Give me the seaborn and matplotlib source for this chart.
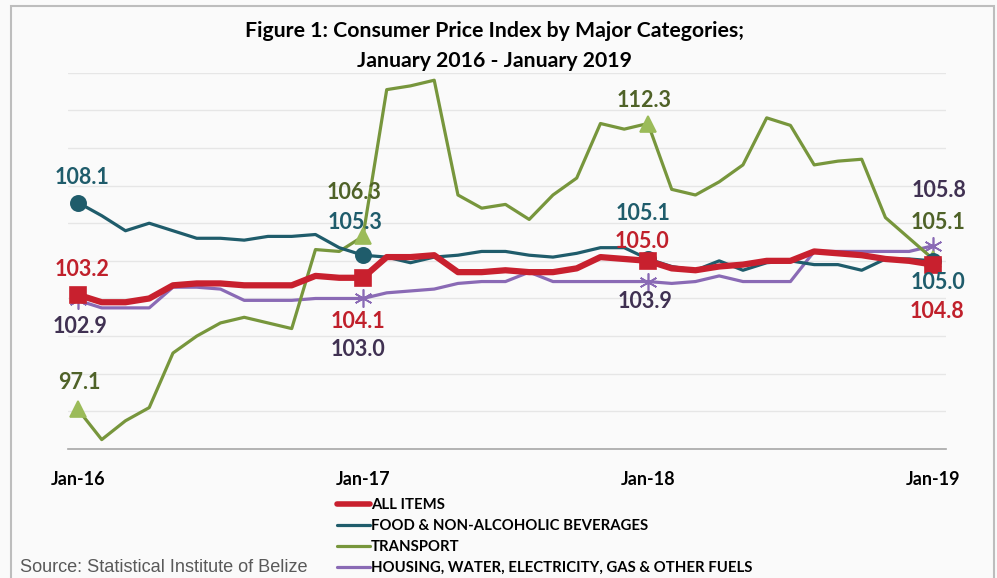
import matplotlib
matplotlib.use("Agg")
import matplotlib.pyplot as plt
from matplotlib.patches import Rectangle
import pandas as pd
import seaborn as sns

# --- data ---
months = pd.date_range("2016-01-01", "2019-01-01", freq="MS")
tick_idx = [0, 12, 24, 36]
tick_labels = ["Jan-16", "Jan-17", "Jan-18", "Jan-19"]

all_items = [103.2, 102.8, 102.8, 103.0, 103.7, 103.8, 103.8, 103.7, 103.7, 103.7, 104.2, 104.1,
             104.1, 105.2, 105.2, 105.3, 104.4, 104.4, 104.5, 104.4, 104.4, 104.6, 105.2, 105.1,
             105.0, 104.6, 104.5, 104.7, 104.8, 105.0, 105.0, 105.5, 105.4, 105.3, 105.1, 105.0,
             104.8]
food = [108.1, 107.4, 106.6, 107.0, 106.6, 106.2, 106.2, 106.1, 106.3, 106.3, 106.4, 105.7,
        105.3, 105.2, 104.9, 105.2, 105.3, 105.5, 105.5, 105.3, 105.2, 105.4, 105.7, 105.7,
        105.1, 104.7, 104.5, 105.0, 104.5, 104.9, 105.0, 104.8, 104.8, 104.5, 105.1, 105.1,
        105.0]
transport = [97.1, 95.5, 96.5, 97.2, 100.1, 101.0, 101.7, 102.0, 101.7, 101.4, 105.6, 105.5,
             106.3, 114.1, 114.3, 114.6, 108.5, 107.8, 108.0, 107.2, 108.5, 109.4, 112.3, 112.0,
             112.3, 108.8, 108.5, 109.2, 110.1, 112.6, 112.2, 110.1, 110.3, 110.4, 107.3, 106.2,
             105.1]
housing = [102.9, 102.5, 102.5, 102.5, 103.6, 103.6, 103.5, 102.9, 102.9, 102.9, 103.0, 103.0,
           103.0, 103.3, 103.4, 103.5, 103.8, 103.9, 103.9, 104.4, 103.9, 103.9, 103.9, 103.9,
           103.9, 103.8, 103.9, 104.2, 103.9, 103.9, 103.9, 105.5, 105.5, 105.5, 105.5, 105.5,
           105.8]

names = ["ALL ITEMS", "FOOD & NON-ALCOHOLIC BEVERAGES", "TRANSPORT",
         "HOUSING, WATER, ELECTRICITY, GAS & OTHER FUELS"]

df = pd.DataFrame({"month": range(len(months)), names[0]: all_items, names[1]: food,
                   names[2]: transport, names[3]: housing})

# --- styles ---
styles = {
    names[0]: dict(color="#c8202e", lw=4.5, marker="s", ms=11, mfc="#c8202e", mec="#c8202e", text="#c0202b"),
    names[1]: dict(color="#1f5c6b", lw=2.3, marker="o", ms=11, mfc="#1f5c6b", mec="#1f5c6b", text="#1f5c6b"),
    names[2]: dict(color="#77963c", lw=2.3, marker="^", ms=12, mfc="#9bbb59", mec="#9bbb59", text="#4f6228"),
    names[3]: dict(color="#8a6ab5", lw=2.3, marker=(6, 2, 0), ms=13, mfc="#8064a2", mec="#8a6ab5", text="#403152"),
}

# data labels: (series, month index, offset in pixels)
labels = [
    (names[1], 0, (4, 25)), (names[0], 0, (4, 25)), (names[3], 0, (2, -26)), (names[2], 0, (1, 27)),
    (names[2], 12, (-9, 44)), (names[1], 12, (-8, 33)), (names[0], 12, (-5, -44)), (names[3], 12, (-5, -51)),
    (names[2], 24, (-4, 23)), (names[1], 24, (-5, 45)), (names[0], 24, (-6, 19)), (names[3], 24, (-3, -20)),
    (names[3], 36, (6, 55)), (names[2], 36, (5, 36)), (names[1], 36, (5, -22)), (names[0], 36, (4, -47)),
]

sns.set_style("white")
plt.rcParams["font.family"] = ["Lato", "DejaVu Sans"]
plt.rcParams["text.color"] = "black"

fig = plt.figure(figsize=(9.97, 5.78), dpi=100, facecolor="#fafafa")
ax = fig.add_axes([68 / 997, 1 - 449 / 578, 878 / 997, 376.3 / 578])
ax.set_facecolor("none")

# order of drawing: housing, transport, food, all items on top
for name in [names[3], names[2], names[1], names[0]]:
    st = styles[name]
    sns.lineplot(data=df, x="month", y=name, ax=ax, color=st["color"], lw=st["lw"],
                 marker=st["marker"], markersize=st["ms"], markerfacecolor=st["mfc"],
                 markeredgecolor=st["mec"], markeredgewidth=1.2, markevery=tick_idx,
                 label=name, zorder=3)

for name, i, off in labels:
    v = df[name].iloc[i]
    ax.annotate(f"{v:.1f}", (i, v), xytext=off, textcoords="offset pixels",
                ha="center", va="center", fontsize=15.5, fontweight="bold",
                color=styles[name]["text"], zorder=5)

ax.set_xlim(-0.42, 36.55)
ax.set_ylim(95, 115)
ax.set_yticks(range(97, 116, 2))
ax.yaxis.grid(True, color="#e6e6e6", lw=1)
ax.set_axisbelow(True)
ax.tick_params(axis="y", left=False, labelleft=False)
ax.set_xticks(tick_idx)
ax.set_xticklabels(tick_labels, fontsize=13, fontweight="bold", color="#000000")
ax.tick_params(axis="x", length=0, pad=16)
ax.set_xlabel("")
ax.set_ylabel("")
for s in ["top", "right", "left"]:
    ax.spines[s].set_visible(False)
ax.spines["bottom"].set_color("#a6a6a6")
ax.spines["bottom"].set_linewidth(1.2)

# legend (order as in reference)
leg_handles = [plt.Line2D([], [], color=styles[n]["color"], lw=min(styles[n]["lw"], 4)) for n in names]
fig.legend(leg_handles, names, loc="upper left", bbox_to_anchor=(337 / 997, 1 - 498 / 578),
           frameon=False, handlelength=2.2, handletextpad=0.1, labelspacing=0.47,
           borderpad=0, borderaxespad=0,
           prop={"family": ["Lato", "DejaVu Sans"], "weight": "bold", "size": 10.7})
ax.get_legend().remove()

fig.text(494 / 997, 1 - 31 / 578, "Figure 1: Consumer Price Index by Major Categories;",
         ha="center", va="center", fontsize=15.3, fontweight="bold", color="black")
fig.text(494 / 997, 1 - 61 / 578, "January 2016 - January 2019",
         ha="center", va="center", fontsize=15.3, fontweight="bold", color="black")
fig.text(20 / 997, 1 - 568 / 578, "Source: Statistical Institute of Belize", ha="left", va="center",
         fontsize=13.1, color="#595959", family=["Liberation Sans", "DejaVu Sans"])

fig.patches.append(Rectangle((11 / 997, -0.05), 983 / 997, 1.05 - 6 / 578, transform=fig.transFigure,
                             facecolor="none", edgecolor="#bdbdbd", lw=1.5))

fig.savefig("out.png", dpi=100, facecolor=fig.get_facecolor())
